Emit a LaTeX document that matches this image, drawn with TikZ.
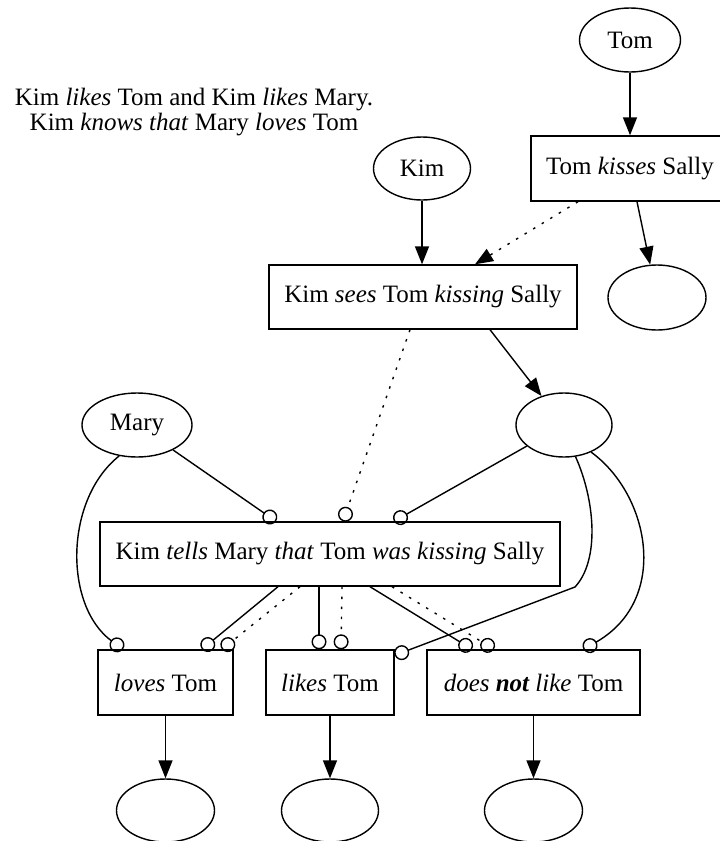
\documentclass[tikz,border=0pt]{standalone}
\usepackage{fontspec}
\setmainfont{Liberation Serif}
\usetikzlibrary{shapes.geometric,arrows.meta}
\begin{document}
\begin{tikzpicture}[x=1pt,y=-1pt,line width=1.4pt,
  every node/.style={font=\fontsize{25}{25}\selectfont},
  ell/.style={ellipse,draw,inner sep=0pt},
  rbox/.style={rectangle,draw,inner sep=0pt,minimum height=65pt},
  arr/.style={-{Triangle[length=18pt,width=14pt]}},
  circ/.style={-{Circle[open,length=15pt,width=15pt]}},
  dots/.style={dash pattern=on 2.5pt off 7.5pt}]
\useasboundingbox (0,0) rectangle (720,841);
% caption
\node[align=center] (cap) at (194,112) {Kim \textit{likes} Tom and Kim \textit{likes} Mary.\\ Kim \textit{knows that} Mary \textit{loves} Tom};
% nodes
\node[ell,minimum width=101pt,minimum height=64pt] (tom) at (630,40) {Tom};
\node[ell,minimum width=97pt,minimum height=63pt] (kim) at (422,168.5) {Kim};
\node[rbox,minimum width=198pt] (tks) at (630,168.5) {Tom \textit{kisses} Sally};
\node[ell,minimum width=98pt,minimum height=65pt] (e1) at (657,297.5) {};
\node[rbox,minimum width=308pt,minimum height=64pt] (kss) at (423,297) {Kim \textit{sees} Tom \textit{kissing} Sally};
\node[ell,minimum width=110pt,minimum height=64pt] (mary) at (137,425) {Mary};
\node[ell,minimum width=96pt,minimum height=64pt] (e2) at (564,425) {};
\node[rbox,minimum width=460pt,minimum height=64pt] (ktm) at (330,554) {Kim \textit{tells} Mary \textit{that} Tom \textit{was kissing} Sally};
\node[rbox,minimum width=135pt] (loves) at (165.5,682.5) {\textit{loves} Tom};
\node[rbox,minimum width=128pt] (likes) at (330,682.5) {\textit{likes} Tom};
\node[rbox,minimum width=213pt] (nlike) at (533.5,682.5) {\textit{does \textbf{not} like} Tom};
\node[ell,minimum width=98pt,minimum height=63pt] (e3) at (165.5,810.5) {};
\node[ell,minimum width=97pt,minimum height=63pt] (e4) at (330,810.5) {};
\node[ell,minimum width=98pt,minimum height=63pt] (e5) at (533.5,810.5) {};
\coordinate (bend) at (575,587);
% edges
\draw[arr] (tom) -- (tks);
\draw[arr] (kim) -- (kim |- kss.north);
\draw[arr] ([xshift=7pt]tks.south) -- (e1);
\draw[arr,dots] ([xshift=-52pt]tks.south) -- ([xshift=52pt]kss.north);
\draw[arr] ([xshift=67pt]kss.south) -- (e2);
\draw[circ] (mary) -- ([xshift=-54pt]ktm.north);
\draw[circ,dots] ([xshift=-13pt]kss.south) -- ([xshift=13pt]ktm.north);
\draw[circ] (e2) -- ([xshift=64pt]ktm.north);
\draw[circ] (mary.240) .. controls (64,500) and (64,606) .. ([xshift=-42.5pt]loves.north);
\draw[circ] ([xshift=-52pt]ktm.south) -- ([xshift=36.5pt]loves.north);
\draw[circ,dots] ([xshift=-30pt]ktm.south) -- ([xshift=56.5pt]loves.north);
\draw[circ] ([xshift=-11pt]ktm.south) -- ([xshift=-11pt]likes.north);
\draw[circ,dots] ([xshift=12pt]ktm.south) -- ([xshift=11pt]likes.north);
\draw[circ] ([xshift=40pt]ktm.south) -- ([xshift=-61.5pt]nlike.north);
\draw[circ,dots] ([xshift=62pt]ktm.south) -- ([xshift=-39.5pt]nlike.north);
\draw[circ] (e2.290) .. controls (595,500) and (600,560) .. (bend) -- ([yshift=-6pt]likes.north east);
\draw[circ] (e2.315) .. controls (650,495) and (670,600) .. ([xshift=50pt]nlike.north);
\draw[arr] (loves) -- (e3);
\draw[arr] (likes) -- (e4);
\draw[arr] (nlike) -- (e5);
\end{tikzpicture}
\end{document}
